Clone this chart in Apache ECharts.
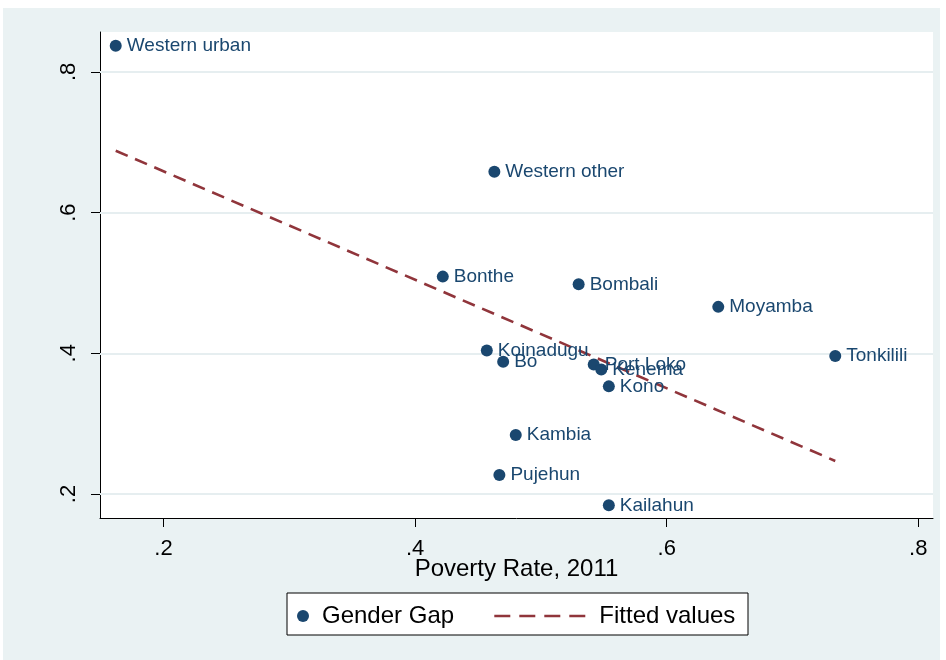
<!DOCTYPE html>
<html>
<head>
<meta charset="utf-8">
<script src="https://cdn.jsdelivr.net/npm/echarts@6/dist/echarts.min.js"></script>
<style>
  html, body { margin: 0; padding: 0; background: #ffffff; }
  #chart { width: 946px; height: 660px; }
</style>
</head>
<body>
<div id="chart"></div>
<script>
// District-level gender gap against 2011 poverty rate
const districts = ['Western urban', 'Western other', 'Bonthe', 'Bombali', 'Moyamba', 'Tonkilili',
  'Koinadugu', 'Bo', 'Port Loko', 'Kenema', 'Kono', 'Kambia', 'Pujehun', 'Kailahun'];
const povertyRate = [0.162, 0.463, 0.422, 0.530, 0.641, 0.734,
  0.457, 0.470, 0.542, 0.548, 0.554, 0.480, 0.467, 0.554];
const genderGap = [0.837, 0.658, 0.509, 0.498, 0.466, 0.396,
  0.404, 0.388, 0.384, 0.377, 0.353, 0.284, 0.227, 0.184];

// Linear fit, evaluated at the smallest and largest poverty rate
const fitX = [0.162, 0.734];
const fitY = [0.688, 0.247];

const xTicks = [0.2, 0.4, 0.6, 0.8];
const yTicks = [0.2, 0.4, 0.6, 0.8];

const navy = '#1a476f';
const maroon = '#90353b';
const panel = '#eaf2f3';
const fontFamily = "'Liberation Sans', Arial, Helvetica, sans-serif";

const fmt = v => {
  const s = String(Math.round(v * 10) / 10);
  return s.startsWith('0') ? s.slice(1) : s;
};

const chart = echarts.init(document.getElementById('chart'), null, { renderer: 'canvas' });

const option = {
  backgroundColor: '#ffffff',
  animation: false,
  textStyle: { fontFamily: fontFamily },
  graphic: [
    {
      type: 'rect', z: -10, silent: true,
      shape: { x: 3, y: 8, width: 937, height: 652 },
      style: { fill: panel }
    },
    {
      type: 'rect', z: 1, silent: true,
      shape: { x: 287, y: 593, width: 461, height: 42 },
      style: { fill: '#ffffff', stroke: '#000000', lineWidth: 1 }
    }
  ],
  grid: {
    left: 100, right: 13, top: 32, bottom: 142,
    show: true, backgroundColor: '#ffffff', borderWidth: 0
  },
  xAxis: {
    type: 'value',
    min: 0.1495, max: 0.8117,
    name: 'Poverty Rate, 2011',
    nameLocation: 'middle',
    nameGap: 39,
    nameMoveOverlap: false,
    nameTextStyle: { color: '#000', fontSize: 24, fontFamily: fontFamily },
    axisLine: { show: true, onZero: false, lineStyle: { color: '#000', width: 1 } },
    axisTick: { show: true, length: 9, inside: false, customValues: xTicks, lineStyle: { color: '#000' } },
    axisLabel: {
      customValues: xTicks, formatter: fmt, color: '#000', fontSize: 22,
      margin: 20, fontFamily: fontFamily
    },
    splitLine: { show: false }
  },
  yAxis: {
    type: 'value',
    min: 0.1659, max: 0.8567,
    axisLine: { show: true, onZero: false, lineStyle: { color: '#000', width: 1 } },
    axisTick: { show: true, length: 9, inside: false, customValues: yTicks, lineStyle: { color: '#000' } },
    axisLabel: {
      customValues: yTicks, formatter: fmt, color: '#000', fontSize: 22,
      rotate: 90, margin: 20, fontFamily: fontFamily
    },
    splitLine: { show: false }
  },
  legend: [
    {
      data: ['Gender Gap'],
      left: 292, top: 599,
      itemWidth: 28, itemHeight: 12, itemGap: 10,
      textStyle: { fontSize: 24, color: '#000', fontFamily: fontFamily },
      selectedMode: false, z: 3
    },
    {
      data: ['Fitted values'],
      left: 488, top: 599,
      itemWidth: 100, itemHeight: 14, itemGap: 10,
      itemStyle: { color: 'rgba(0,0,0,0)', opacity: 0, borderWidth: 0 },
      lineStyle: { color: maroon, width: 2.6, type: [16, 9] },
      textStyle: { fontSize: 24, color: '#000', fontFamily: fontFamily },
      selectedMode: false, z: 3
    }
  ],
  series: [
    {
      name: 'Gender Gap',
      type: 'scatter',
      symbol: 'circle',
      symbolSize: 12,
      itemStyle: { color: navy, opacity: 1 },
      data: districts.map((d, i) => ({ name: d, value: [povertyRate[i], genderGap[i]] })),
      label: {
        show: true, position: 'right', distance: 5,
        formatter: p => p.name, color: navy, fontSize: 19, fontFamily: fontFamily
      },
      markLine: {
        silent: true, symbol: 'none', z: 1,
        label: { show: false },
        lineStyle: { color: '#e6eef0', width: 2, type: 'solid' },
        data: yTicks.map(v => ({ yAxis: v }))
      },
      z: 4
    },
    {
      name: 'Fitted values',
      type: 'line',
      symbol: 'none',
      showSymbol: false,
      lineStyle: { color: maroon, width: 2.6, type: [13, 8] },
      itemStyle: { color: maroon },
      data: fitX.map((x, i) => [x, fitY[i]]),
      z: 3
    }
  ]
};

chart.setOption(option);
</script>
</body>
</html>
